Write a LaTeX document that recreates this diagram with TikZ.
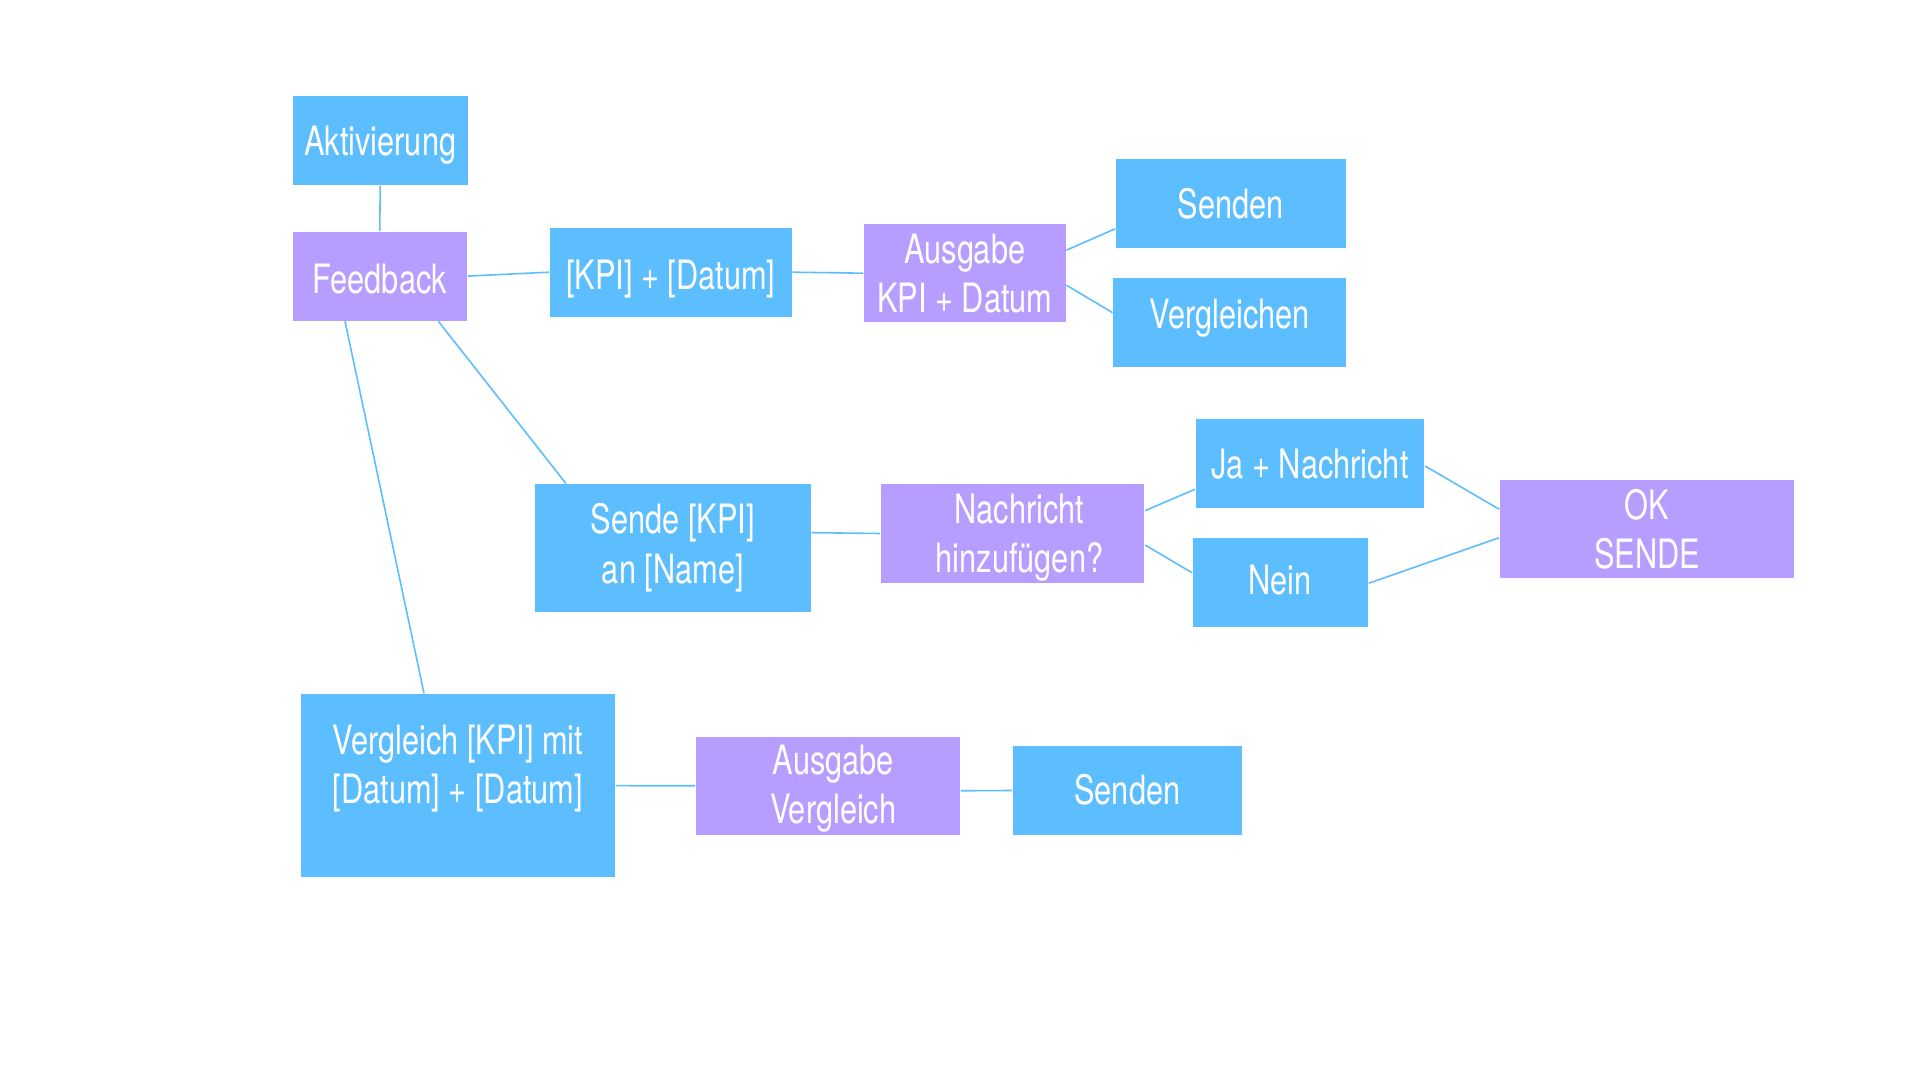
\documentclass[tikz,border=0pt]{standalone}
\usepackage{fontspec}
\setmainfont[FakeStretch=0.76]{TeX Gyre Heros}
\usepackage{tikz}
\usetikzlibrary{calc}
\definecolor{kasten}{RGB}{92,190,255}
\definecolor{frage}{RGB}{182,157,255}
\tikzset{
  box/.style={rectangle,inner sep=0pt,align=center,text=white,text depth=0pt,
    font=\fontsize{11.5pt}{14pt}\selectfont},
  blau/.style={box,fill=kasten},
  lila/.style={box,fill=frage},
  einzeilig/.style={text height=#1},
  verbindung/.style={draw=kasten,line width=0.45pt},
}

\begin{document}
\begin{tikzpicture}[x=0.01cm,y=-0.01cm]
      \useasboundingbox[fill=white] (0,0) rectangle (1920,1080);
      % linke Spalte
      \node[blau,einzeilig=8.9pt,minimum width=1.75cm,minimum height=0.893cm] (akt) at (380.2,140.3) {Aktivierung};
      \node[lila,einzeilig=9.8pt,minimum width=1.745cm,minimum height=0.888cm] (fb) at (379.8,276.1) {Feedback};
      \node[blau,minimum width=3.143cm,minimum height=1.833cm,text depth=12.2pt] (vgl) at (457.8,785.7) {Vergleich [KPI] mit\\{}[Datum] + [Datum]};
      % obere Reihe
      \node[blau,einzeilig=9.7pt,minimum width=2.417cm,minimum height=0.89cm] (kpi) at (670.8,272.2) {[KPI] + [Datum]};
      \node[lila,minimum width=2.017cm,minimum height=0.983cm] (ausg) at (964.8,273.2) {Ausgabe\\KPI + Datum};
      \node[blau,einzeilig=8.2pt,minimum width=2.297cm,minimum height=0.89cm] (senden) at (1230.8,203.8) {Senden};
      \node[blau,einzeilig=3.5pt,minimum width=2.324cm,minimum height=0.89cm] (vergleichen) at (1229.5,322.2) {Vergleichen};
      % mittlere Reihe
      \node[blau,minimum width=2.757cm,minimum height=1.274cm,text depth=2.6pt] (sendkpi) at (672.8,548) {Sende [KPI]\\an [Name]};
      \node[lila,minimum width=2.636cm,minimum height=0.984cm] (nachricht) at (1012.5,533.5) {\hspace*{4pt}Nachricht\\\hspace*{4pt}hinzufügen?};
      \node[blau,einzeilig=8.2pt,minimum width=2.286cm,minimum height=0.89cm] (ja) at (1310,463.8) {Ja + Nachricht};
      \node[blau,einzeilig=7.2pt,minimum width=1.753cm,minimum height=0.887cm] (nein) at (1280.3,582.3) {Nein};
      \node[lila,minimum width=2.94cm,minimum height=0.977cm] (ok) at (1647,528.8) {OK\\SENDE};
      % untere Reihe
      \node[lila,minimum width=2.64cm,minimum height=0.983cm,text depth=1pt] (ausgvgl) at (828,785.8) {\hspace*{3pt}Ausgabe\\\hspace*{3pt}Vergleich};
      \node[blau,einzeilig=8.2pt,minimum width=2.293cm,minimum height=0.89cm] (senden2) at (1127.3,790.5) {Senden};

      \draw[verbindung] (akt.south) -- (fb.north);
      \draw[verbindung] (fb.east) -- (kpi.west);
      \draw[verbindung] (kpi.east) -- (ausg.west);
      \draw[verbindung] ($(ausg.east)+(0,-23)$) -- ($(senden.west)+(0,25)$);
      \draw[verbindung] ($(ausg.east)+(0,12)$) -- ($(vergleichen.west)+(0,-9.5)$);
      \draw[verbindung] ($(fb.south)+(58.5,0)$) -- ($(sendkpi.north)+(-106.8,0)$);
      \draw[verbindung] ($(fb.south)+(-34.8,0)$) -- ($(vgl.north)+(-33.8,0)$);
      \draw[verbindung] ($(sendkpi.east)+(0,-15.3)$) -- (nachricht.west);
      \draw[verbindung] ($(nachricht.east)+(0,-22.8)$) -- ($(ja.west)+(0,25.5)$);
      \draw[verbindung] ($(nachricht.east)+(0,11.5)$) -- ($(nein.west)+(0,-9.6)$);
      \draw[verbindung] ($(ja.east)+(0,2.2)$) -- ($(ok.west)+(0,-19.5)$);
      \draw[verbindung] ($(nein.east)+(0,1)$) -- ($(ok.west)+(0,8.9)$);
      \draw[verbindung] (vgl.east) -- (ausgvgl.west);
      \draw[verbindung] ($(ausgvgl.east)+(0,5)$) -- (senden2.west);
\end{tikzpicture}
\end{document}
